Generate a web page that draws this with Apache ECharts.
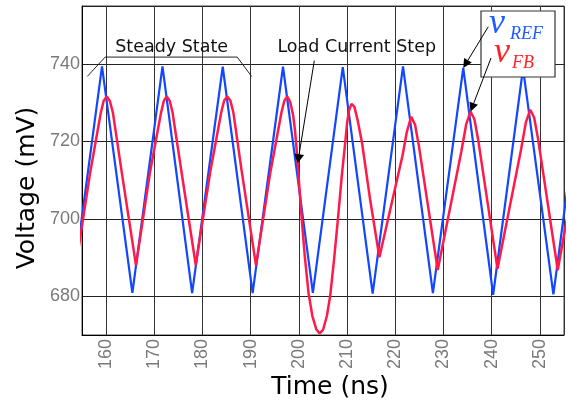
<!DOCTYPE html>
<html>
<head>
<meta charset="utf-8">
<script src="https://cdn.jsdelivr.net/npm/echarts@6/dist/echarts.min.js"></script>
<style>
  html, body { margin: 0; padding: 0; background: #fff; }
  #chart { width: 569px; height: 402px; }
</style>
</head>
<body>
<div id="chart"></div>
<script>
// Axis tick values
const timeTicks = [160, 170, 180, 190, 200, 210, 220, 230, 240, 250];
const voltageTicks = [680, 700, 720, 740];

// v_REF: triangular reference ramp, vertices as [time (ns), voltage (mV)]
const vRef = [
  [152.9, 681.0], [159.15, 739.4], [165.45, 680.9], [171.7, 739.4],
  [177.85, 680.8], [184.2, 739.3], [190.4, 680.8], [196.7, 739.3],
  [202.9, 680.9], [209.1, 739.2], [215.3, 680.7], [221.6, 739.4],
  [227.8, 680.8], [234.1, 739.0], [240.3, 680.4], [246.5, 738.9],
  [252.8, 680.5], [259.0, 739.0]
];

// v_FB: feedback voltage, [time (ns), voltage (mV)]
const vFb = [
  [153.75, 688.0],
  [156.7, 712.0], [158.9, 727.4], [159.5, 730.5], [160.15, 731.6], [160.8, 730.4], [161.4, 727.5], [163.2, 712.4],
  [166.2, 688.0],
  [169.1, 712.0], [171.4, 727.5], [172.0, 730.6], [172.6, 731.6], [173.2, 730.5], [173.8, 727.4], [175.6, 712.5],
  [178.6, 688.1],
  [181.6, 712.1], [183.9, 727.6], [184.5, 730.6], [185.15, 731.6], [185.8, 730.5], [186.4, 727.5], [188.1, 712.6],
  [191.1, 688.0],
  [194.1, 712.2], [196.4, 727.6], [197.0, 730.6], [197.6, 731.6], [198.2, 730.2], [198.8, 726.8],
  [199.2, 722.8], [199.6, 716.8], [200.0, 709.8], [200.5, 701.4], [201.2, 690.6], [202.0, 680.8],
  [202.8, 674.9], [203.6, 671.5], [204.3, 670.4], [205.0, 671.3], [205.8, 674.9], [206.5, 680.2],
  [207.3, 689.6], [208.1, 700.0], [208.9, 711.2], [209.6, 719.6], [210.0, 724.8], [210.4, 728.0],
  [210.9, 729.7], [211.5, 729.0], [212.2, 725.4], [213.1, 719.6], [214.8, 704.8],
  [216.7, 690.1],
  [221.5, 716.4], [222.4, 722.5], [223.3, 726.4], [224.1, 724.3], [224.9, 718.8],
  [228.8, 686.8],
  [233.7, 717.4], [234.7, 724.4], [235.6, 727.7], [236.4, 725.8], [237.2, 720.4],
  [241.2, 687.1],
  [246.1, 718.0], [247.1, 725.0], [248.0, 728.2], [248.8, 726.2], [249.6, 720.8],
  [253.7, 686.8],
  [255.6, 700.0]
];

const BLUE = '#1246ff';
const RED = '#ff1a4a';
const LABEL_GREY = '#7a7a7a';

const chart = echarts.init(document.getElementById('chart'), null, { renderer: 'canvas' });

const tickLabel = (ticks) => (v) => (ticks.includes(Math.round(v)) ? String(Math.round(v)) : '');

chart.setOption({
  animation: false,
  backgroundColor: '#fff',
  grid: {
    left: 82, right: 5, top: 6, bottom: 67,
    containLabel: false,
    outerBoundsMode: 'none',
    show: true,
    borderColor: '#444',
    borderWidth: 1,
    backgroundColor: 'transparent'
  },
  xAxis: {
    type: 'value',
    min: 155, max: 255,
    splitNumber: 10,
    axisLine: { show: true, onZero: false, lineStyle: { color: '#000', width: 1 } },
    axisTick: { show: false },
    splitLine: { show: true, lineStyle: { color: '#333', width: 1 } },
    axisLabel: {
      rotate: 90,
      margin: 4,
      showMinLabel: false, showMaxLabel: false,
      hideOverlap: false,
      color: LABEL_GREY,
      fontFamily: 'Liberation Sans',
      fontSize: 18,
      formatter: tickLabel(timeTicks)
    }
  },
  yAxis: {
    type: 'value',
    min: 670, max: 755,
    splitNumber: 4,
    axisLine: { show: true, onZero: false, lineStyle: { color: '#000', width: 1 } },
    axisTick: { show: false },
    splitLine: { show: true, lineStyle: { color: '#222', width: 1 } },
    axisLabel: {
      margin: 2,
      showMinLabel: false, showMaxLabel: false,
      hideOverlap: false,
      color: LABEL_GREY,
      fontFamily: 'Liberation Sans',
      fontSize: 18,
      formatter: tickLabel(voltageTicks)
    }
  },
  series: [
    {
      name: 'vREF', type: 'line', data: vRef,
      showSymbol: false, clip: true, z: 3,
      lineStyle: { color: BLUE, width: 2.2 }
    },
    {
      name: 'vFB', type: 'line', data: vFb,
      showSymbol: false, clip: true, z: 4,
      lineStyle: { color: RED, width: 2.5 }
    }
  ]
});

// Annotation overlay: brackets, arrows, labels and the signal key
const toPx = (p) => chart.convertToPixel({ gridIndex: 0 }, p);

function arrow(from, tip, len, half) {
  const dx = tip[0] - from[0], dy = tip[1] - from[1];
  const L = Math.hypot(dx, dy);
  const ux = dx / L, uy = dy / L;
  const bx = tip[0] - ux * len, by = tip[1] - uy * len;
  const nx = -uy, ny = ux;
  return [
    { type: 'line', z: 110, silent: true,
      shape: { x1: from[0], y1: from[1], x2: bx, y2: by },
      style: { stroke: '#000', lineWidth: 1 } },
    { type: 'polygon', z: 110, silent: true,
      shape: { points: [[tip[0], tip[1]], [bx + nx * half, by + ny * half], [bx - nx * half, by - ny * half]] },
      style: { fill: '#000' } }
  ];
}

const bracket = [[156.1, 736.8], [159.8, 741.8], [187.2, 741.8], [190.2, 736.8]].map(toPx);
const steadyText = toPx([173.6, 744.4]);
const stepText = toPx([212.0, 744.4]);
const stepFrom = toPx([203.2, 740.9]);
const stepTip = toPx([199.75, 714.4]);
const refTip = toPx([234.1, 739.0]);
const fbTip = toPx([235.6, 727.7]);

const keyFont = { fontFamily: 'Liberation Serif', fontStyle: 'italic', align: 'left', verticalAlign: 'middle' };

const graphics = [
  { type: 'polyline', z: 100, silent: true,
    shape: { points: bracket },
    style: { stroke: '#222', lineWidth: 1, fill: null } },
  { type: 'text', z: 100, silent: true,
    x: steadyText[0], y: steadyText[1],
    style: { text: 'Steady State', fill: '#111', fontFamily: 'DejaVu Sans', fontSize: 17.5,
             align: 'center', verticalAlign: 'middle' } },
  { type: 'text', z: 100, silent: true,
    x: stepText[0], y: stepText[1],
    style: { text: 'Load Current Step', fill: '#111', fontFamily: 'DejaVu Sans', fontSize: 17.5,
             align: 'center', verticalAlign: 'middle' } },
  ...arrow(stepFrom, stepTip, 9, 5),
  // signal key
  { type: 'rect', z: 105, silent: true,
    shape: { x: 481, y: 11, width: 74, height: 66 },
    style: { fill: '#fff', stroke: '#333', lineWidth: 1.2 } },
  { type: 'text', z: 106, silent: true, x: 489, y: 24,
    style: Object.assign({ text: 'v', fill: '#1f5bff', fontSize: 36 }, keyFont) },
  { type: 'text', z: 106, silent: true, x: 510, y: 34.5,
    style: Object.assign({ text: 'REF', fill: '#1f5bff', fontSize: 18 }, keyFont) },
  { type: 'text', z: 106, silent: true, x: 494, y: 52.4,
    style: Object.assign({ text: 'v', fill: '#ff2222', fontSize: 36 }, keyFont) },
  { type: 'text', z: 106, silent: true, x: 512, y: 62.9,
    style: Object.assign({ text: 'FB', fill: '#ff2222', fontSize: 18 }, keyFont) },
  ...arrow([488.3, 26.7], refTip, 9, 4.5),
  ...arrow([491, 58], fbTip, 9, 4.5),
  // axis titles
  { type: 'text', z: 100, silent: true, x: 27, y: 188, rotation: Math.PI / 2,
    style: { text: 'Voltage (mV)', fill: '#000', fontFamily: 'DejaVu Sans', fontSize: 25,
             align: 'center', verticalAlign: 'middle' } },
  { type: 'text', z: 100, silent: true, x: 330, y: 387,
    style: { text: 'Time (ns)', fill: '#000', fontFamily: 'DejaVu Sans', fontSize: 25,
             align: 'center', verticalAlign: 'middle' } }
];

chart.setOption({ graphic: graphics });
</script>
</body>
</html>
